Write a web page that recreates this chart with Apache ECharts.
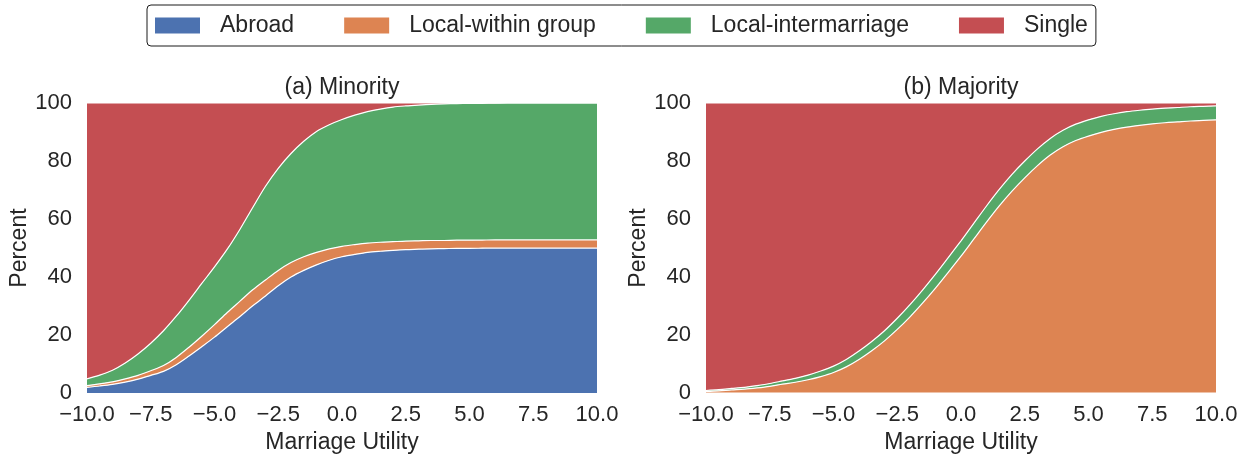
<!DOCTYPE html>
<html>
<head>
<meta charset="utf-8">
<script src="https://cdn.jsdelivr.net/npm/echarts@6/dist/echarts.min.js"></script>
<style>
  html, body { margin: 0; padding: 0; background: #ffffff; }
  #chart { width: 1249px; height: 459px; }
</style>
</head>
<body>
<div id="chart"></div>
<script>
// Marriage utility values along the horizontal axis
const utility = [-10, -9.5, -9, -8.5, -8, -7.5, -7, -6.5, -6, -5.5,
                 -5, -4.5, -4, -3.5, -3, -2.5, -2, -1.5, -1, -0.5,
                 0, 0.5, 1, 1.5, 2, 2.5, 3, 3.5, 4, 4.5,
                 5, 5.5, 6, 6.5, 7, 7.5, 8, 8.5, 9, 9.5, 10];

// Outcome categories (legend order)
const outcomes = ['Abroad', 'Local-within group', 'Local-intermarriage', 'Single'];

// Panel titles
const panelTitles = ['(a) Minority', '(b) Majority'];

// Minority shares (percent)
const minorityAbroad = [2.0, 2.45, 3.0, 3.8, 4.8, 6.1, 7.5, 9.8, 12.8, 16.0,
                        19.3, 22.9, 26.4, 30.1, 33.5, 37.0, 40.0, 42.3, 44.2, 45.8,
                        47.0, 47.8, 48.5, 48.9, 49.2, 49.45, 49.6, 49.75, 49.8, 49.9,
                        49.9, 49.95, 50, 50, 50, 50, 50, 50, 50, 50, 50];
const minorityWithin = [0.6, 0.75, 0.9, 1.1, 1.3, 1.6, 2.0, 2.5, 3.0, 3.6,
                        4.3, 4.9, 5.3, 5.5, 5.5, 5.3, 5.0, 4.7, 4.3, 3.9,
                        3.6, 3.4, 3.2, 3.1, 3.0, 2.95, 2.9, 2.85, 2.8, 2.8,
                        2.8, 2.8, 2.8, 2.8, 2.8, 2.8, 2.8, 2.8, 2.8, 2.8, 2.8];
const minorityInter  = [2.3, 3.0, 4.0, 5.5, 7.4, 9.5, 12.0, 14.2, 16.2, 18.2,
                        19.9, 21.8, 24.8, 28.4, 32.3, 35.2, 37.6, 39.8, 41.7, 42.8,
                        43.7, 44.6, 45.3, 45.9, 46.4, 46.6, 46.8, 46.95, 47.1, 47.1,
                        47.15, 47.15, 47.15, 47.2, 47.2, 47.2, 47.2, 47.2, 47.2, 47.2, 47.2];
const minoritySingle = [95.1, 93.8, 92.1, 89.6, 86.5, 82.8, 78.5, 73.5, 68.0, 62.2,
                        56.5, 50.4, 43.5, 36.0, 28.7, 22.5, 17.4, 13.2, 9.8, 7.5,
                        5.7, 4.2, 3.0, 2.1, 1.4, 1.0, 0.7, 0.45, 0.3, 0.2,
                        0.15, 0.1, 0.05, 0, 0, 0, 0, 0, 0, 0, 0];

// Majority shares (percent)
const majorityAbroad = [0, 0, 0, 0, 0, 0, 0, 0, 0, 0,
                        0, 0, 0, 0, 0, 0, 0, 0, 0, 0,
                        0, 0, 0, 0, 0, 0, 0, 0, 0, 0,
                        0, 0, 0, 0, 0, 0, 0, 0, 0, 0, 0];
const majorityWithin = [0.6, 0.8, 1.1, 1.35, 1.8, 2.35, 3.1, 3.75, 4.6, 5.7,
                        7.1, 9.05, 11.6, 14.6, 18.0, 21.95, 26.3, 31.1, 36.2, 41.65,
                        47.2, 53.05, 58.9, 64.5, 69.6, 74.2, 78.4, 82.05, 84.9, 87.05,
                        88.6, 89.9, 90.9, 91.7, 92.3, 92.8, 93.2, 93.5, 93.8, 94.0, 94.2];
const majorityInter  = [0.3, 0.4, 0.5, 0.65, 0.8, 0.95, 1.1, 1.35, 1.6, 1.9,
                        2.2, 2.55, 2.9, 3.2, 3.5, 3.85, 4.2, 4.5, 4.8, 5.05,
                        5.3, 5.45, 5.6, 5.7, 5.8, 5.8, 5.8, 5.75, 5.7, 5.65,
                        5.6, 5.5, 5.4, 5.3, 5.2, 5.1, 5.0, 4.95, 4.9, 4.85, 4.8];
const majoritySingle = [99.1, 98.8, 98.4, 98.0, 97.4, 96.7, 95.8, 94.9, 93.8, 92.4,
                        90.7, 88.4, 85.5, 82.2, 78.5, 74.2, 69.5, 64.4, 59.0, 53.3,
                        47.5, 41.5, 35.5, 29.8, 24.6, 20.0, 15.8, 12.2, 9.4, 7.3,
                        5.8, 4.6, 3.7, 3.0, 2.5, 2.1, 1.8, 1.55, 1.3, 1.15, 1.0];

const colors = ['#4C72B0', '#DD8452', '#55A868', '#C44E52'];
const textColor = '#262626';
const font = 'Liberation Sans, Arial, sans-serif';

const panels = [
  [minorityAbroad, minorityWithin, minorityInter, minoritySingle],
  [majorityAbroad, majorityWithin, majorityInter, majoritySingle]
];

function fmtX(v) {
  return (v < 0 ? '\u2212' : '') + Math.abs(v).toFixed(1);
}

const grids = [
  { left: 87, top: 103, width: 510, height: 293 },
  { left: 706, top: 103, width: 510, height: 293 }
];

// Category axes carry the stacked areas; value axes under them draw the ticks
const catAxes = grids.map((g, i) => ({
  type: 'category', gridIndex: i, data: utility.map(String), boundaryGap: false,
  position: 'bottom',
  axisLine: { show: false }, axisTick: { show: false }, splitLine: { show: false },
  axisLabel: { show: false }
}));

const valAxes = grids.map((g, i) => ({
  type: 'value', gridIndex: i, min: -10, max: 10, interval: 2.5,
  position: 'bottom', offset: 0,
  name: 'Marriage Utility', nameLocation: 'middle', nameGap: 36,
  nameTextStyle: { color: textColor, fontSize: 23, fontFamily: font, verticalAlign: 'top' },
  axisLine: { show: false }, axisTick: { show: false }, splitLine: { show: false },
  axisLabel: { color: textColor, fontSize: 22, fontFamily: font, margin: 11, formatter: fmtX }
}));

const yAxes = grids.map((g, i) => ({
  type: 'value', gridIndex: i, min: 0, max: 100, interval: 20,
  name: 'Percent', nameLocation: 'middle', nameGap: 52, nameRotate: 90,
  nameTextStyle: { color: textColor, fontSize: 23, fontFamily: font },
  axisLine: { show: false }, axisTick: { show: false }, splitLine: { show: false },
  axisLabel: { color: textColor, fontSize: 22, fontFamily: font, margin: 15 }
}));

const series = [];
panels.forEach((panel, p) => {
  panel.forEach((vals, k) => {
    series.push({
      name: outcomes[k],
      type: 'line',
      xAxisIndex: p, yAxisIndex: p,
      stack: 'panel' + p,
      data: vals,
      smooth: 0.3,
      showSymbol: false,
      symbol: 'none',
      color: colors[k],
      lineStyle: { color: '#ffffff', width: 1.2 },
      areaStyle: { color: colors[k], opacity: 1 },
      emphasis: { disabled: true },
      silent: true
    });
  });
});

const chart = echarts.init(document.getElementById('chart'), null, { renderer: 'canvas' });
chart.setOption({
  animation: false,
  backgroundColor: '#ffffff',
  legend: {
    data: outcomes.map((n, k) => ({ name: n, itemStyle: { color: colors[k] } })),
    left: 147, top: 5,
    orient: 'horizontal',
    padding: [9, 8, 9, 8],
    itemWidth: 45, itemHeight: 16, itemGap: 50,
    icon: 'rect',
    borderColor: '#1a1a1a', borderWidth: 1, borderRadius: 4,
    textStyle: { color: textColor, fontSize: 23, fontFamily: font, padding: [0, 0, 0, 15] },
    selectedMode: false
  },
  graphic: panelTitles.map((t, i) => ({
    type: 'text',
    x: grids[i].left + grids[i].width / 2,
    y: 88,
    style: {
      text: t, fill: textColor, font: '23px ' + font,
      align: 'center', verticalAlign: 'middle'
    }
  })),
  grid: grids,
  xAxis: catAxes.concat(valAxes),
  yAxis: yAxes,
  series: series
});
</script>
</body>
</html>
